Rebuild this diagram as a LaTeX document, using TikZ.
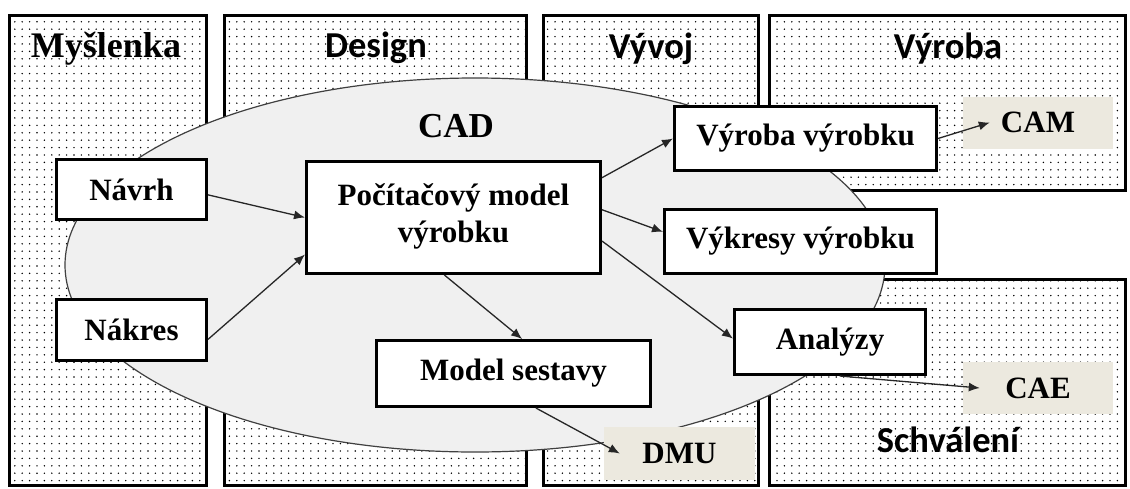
\documentclass[tikz,border=0pt]{standalone}
\usepackage{fontspec}
\setmainfont{Liberation Serif}
\newfontfamily\headfont{Carlito}
\usetikzlibrary{positioning, arrows.meta, patterns}

% Ridky teckovany vzor pro pozadi fazi
\pgfdeclarepatternformonly{sparsedots}{\pgfqpoint{-1pt}{-1pt}}{\pgfqpoint{1pt}{1pt}}{\pgfqpoint{7.4pt}{7.4pt}}{%
  \pgfpathcircle{\pgfqpoint{0pt}{0pt}}{0.8pt}\pgfusepath{fill}}

\definecolor{cadgray}{HTML}{F0F0F0}
\definecolor{toolbg}{HTML}{ECE9DF}

\begin{document}
\begin{tikzpicture}[x=1pt, y=-1pt, >={Latex[length=11pt,width=9pt]}] % souradnice v pixelech
    % Styly
    \tikzset{
        panel/.style={draw=black, line width=3pt, pattern=sparsedots},
        box/.style={draw=black, line width=3pt, fill=white, inner sep=0pt,
            align=center, font=\fontsize{31}{37}\selectfont\bfseries},
        tool/.style={fill=toolbg, inner sep=0pt, minimum width=150pt,
            minimum height=52pt, font=\fontsize{31}{37}\selectfont\bfseries},
        headsans/.style={anchor=base, font=\headfont\fontsize{36.5}{40}\selectfont\bfseries},
        headserif/.style={anchor=base, font=\fontsize{36}{40}\selectfont\bfseries},
        link/.style={->, line width=1.3pt, draw=black!85}
    }

    % Pozadi
    \fill[white] (0,0) rectangle (1130,488);

    % --- Faze (tečkované sloupce) ---
    \path[panel] (9.5,15.5) rectangle (206.5,485.5);
    \path[panel] (224.5,15.5) rectangle (526.5,485.5);
    \path[panel] (543.5,15.5) rectangle (758.5,485.5);
    \path[panel] (769.5,15.5) rectangle (1125.5,190.5);
    \path[panel] (769.5,279.5) rectangle (1125.5,485.5);

    % Nadpisy fazi
    \node[headserif] (myslenka) at (106,57) {Myšlenka};
    \node[headsans] (design) at (376,57) {Design};
    \node[headsans] (vyvoj) at (651,58) {Vývoj};
    \node[headsans] (vyrobahead) at (948,58) {Výroba};
    \node[headsans] (schvaleni) at (948,452) {Schválení};

    % --- Oblast CAD ---
    \draw[fill=cadgray, draw=black!75, line width=1.2pt]
        (475,265) ellipse [x radius=410pt, y radius=187pt];
    \node[anchor=base, font=\fontsize{35}{40}\selectfont\bfseries] (cad) at (456,137) {CAD};

    % --- Bloky ---
    \node[box, minimum width=150pt, minimum height=60pt] (navrh) at (131.5,189.5) {Návrh};
    \node[box, minimum width=150pt, minimum height=61pt] (nakres) at (131.5,330) {Nákres};
    \node[box, minimum width=294pt, minimum height=112pt] (pocitac) at (453.5,217.5)
        {Počítačový model\\výrobku\\[-28pt]};
    \node[box, minimum width=262pt, minimum height=64pt] (vyroba) at (805.5,138.5) {Výroba výrobku};
    \node[box, minimum width=272pt, minimum height=64pt] (vykresy) at (800.5,241.5) {Výkresy výrobku};
    \node[box, minimum width=191pt, minimum height=65pt] (analyzy) at (830,342) {Analýzy};
    \node[box, minimum width=274pt, minimum height=66pt] (sestava) at (513.5,373.5) {Model sestavy};

    % Navazujici systemy
    \node[tool] (cam) at (1038,122.5) {CAM};
    \node[tool] (cae) at (1038,388) {CAE};
    \node[tool, minimum width=151pt, minimum height=53pt] (dmu) at (679.5,453.5) {DMU};

    % --- Sipky ---
    \draw[link] (navrh.-4) -- (pocitac.west);
    \draw[link] (nakres.-7) -- (pocitac.194);
    \draw[link] (pocitac.15) -- (vyroba.west);
    \draw[link] (pocitac.3) -- (vykresy.176);
    \draw[link] (pocitac.-9) -- (analyzy.178);
    \draw[link] (pocitac.-99) -- (sestava.76);
    \draw[link] (sestava.-57) -- ([xshift=16pt]dmu.west);
    \draw[link] (vyroba.east) -- ([xshift=27pt]cam.west);
    \draw[link] (analyzy.-74) -- ([xshift=17pt]cae.west);

\end{tikzpicture}
\end{document}
